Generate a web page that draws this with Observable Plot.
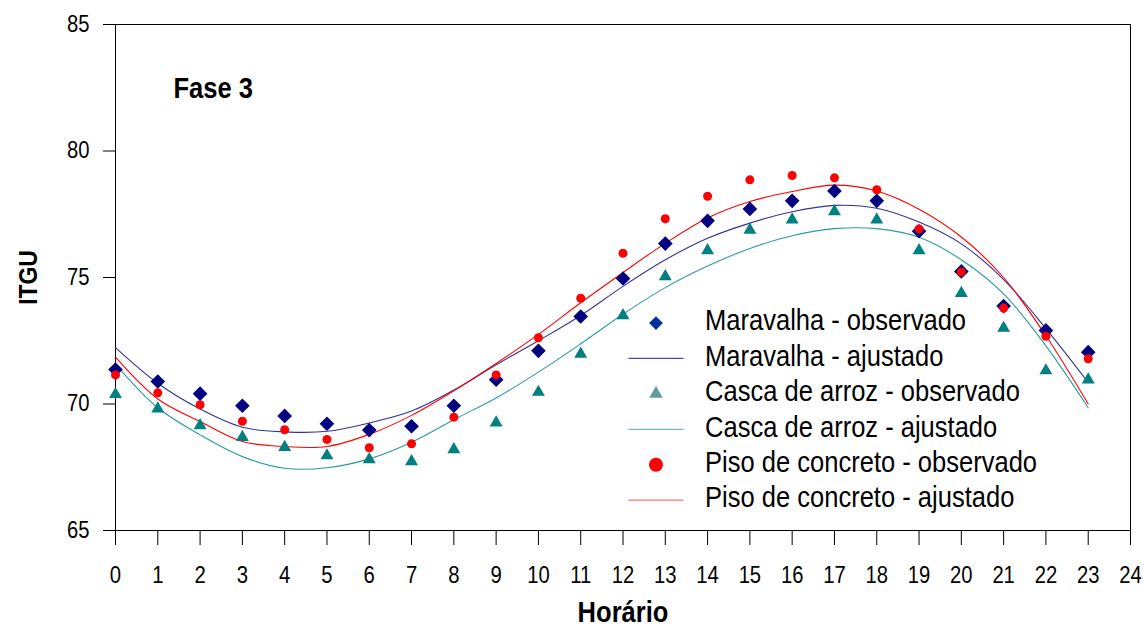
<!DOCTYPE html>
<html>
<head>
<meta charset="utf-8">
<script src="https://cdn.jsdelivr.net/npm/d3@7"></script>
<script src="https://cdn.jsdelivr.net/npm/@observablehq/plot@0.6"></script>
<style>
  html, body { margin: 0; padding: 0; background: #fff; }
  #chart svg { display: block; }
</style>
</head>
<body>
<div id="chart"></div>
<script>
// ---- data ----
const hours = [0,1,2,3,4,5,6,7,8,9,10,11,12,13,14,15,16,17,18,19,20,21,22,23];

const maravalhaObs = [71.36,70.89,70.41,69.93,69.53,69.22,68.97,69.12,69.93,70.96,72.10,73.46,74.96,76.34,77.24,77.71,78.03,78.42,78.03,76.83,75.24,73.87,72.91,72.05];
const cascaObs     = [70.38,69.81,69.15,68.69,68.29,67.96,67.81,67.73,68.20,69.26,70.47,71.98,73.50,75.04,76.07,76.88,77.28,77.61,77.28,76.07,74.38,73.00,71.32,70.96];
const pisoObs      = [71.15,70.44,69.97,69.32,68.98,68.60,68.27,68.43,69.48,71.15,72.62,74.18,75.96,77.32,78.21,78.86,79.03,78.94,78.47,76.92,75.22,73.79,72.68,71.79];

const maravalhaFit = [72.23,70.82,69.80,69.08,68.90,68.92,69.25,69.72,70.55,71.55,72.50,73.50,74.65,75.70,76.55,77.15,77.60,77.85,77.74,77.19,76.33,74.92,72.98,70.85];
const cascaFit     = [71.58,69.85,68.78,67.92,67.46,67.48,67.83,68.49,69.38,70.24,71.26,72.38,73.55,74.60,75.45,76.15,76.65,76.93,76.93,76.59,75.70,74.35,72.30,69.85];
const pisoFit      = [71.85,70.20,69.31,68.52,68.32,68.32,68.80,69.55,70.52,71.60,72.75,74.00,75.20,76.35,77.35,78.00,78.40,78.65,78.42,77.70,76.60,75.00,72.70,70.00];

const xTicks = [0,1,2,3,4,5,6,7,8,9,10,11,12,13,14,15,16,17,18,19,20,21,22,23,24];
const yTicks = [65,70,75,80,85];

const legendLabels = [
  "Maravalha - observado",
  "Maravalha - ajustado",
  "Casca de arroz - observado",
  "Casca de arroz - ajustado",
  "Piso de concreto - observado",
  "Piso de concreto - ajustado"
];

// ---- styles ----
const FONT = '"Liberation Sans", Arial, Helvetica, sans-serif';
const CONDENSE = 0.88; // narrow typeface look
const C = {
  marObs: "#000080", casObs: "#008080", pisObs: "#ff0000",
  marFit: "#333399", casFit: "#2a9d9d", pisFit: "#ff0000",
  legMar: "#003399", legCas: "#669999", legPis: "#ff0000",
  legMarL: "#4a4ab0", legCasL: "#70b8b8", legPisL: "#ff7070"
};

const toRows = (vals) => hours.map((h, i) => ({hour: h, value: vals[i]}));

// legend layout (in data units of the chart)
const legendX = {symbol: 12.78, lineStart: 12.14, lineEnd: 13.42, text: 13.94};
const legendTop = 73.2, legendStep = 1.4;
const legendSpec = [
  {type: "dot", symbol: "diamond2", color: C.legMar, r: 6.2},
  {type: "line", color: C.legMarL},
  {type: "dot", symbol: "triangle", color: C.legCas, r: 5.0},
  {type: "line", color: C.legCasL},
  {type: "dot", symbol: "circle", color: C.legPis, r: 7.0},
  {type: "line", color: C.legPisL}
];
const legendRows = legendLabels.map((label, i) => ({label, y: legendTop - i * legendStep, ...legendSpec[i]}));

const legendMarks = legendRows.flatMap(d => {
  const sym = d.type === "dot"
    ? Plot.dot([d], {x: () => legendX.symbol, y: "y", symbol: d.symbol, fill: d.color, r: d.r, stroke: "none"})
    : Plot.line([{x: legendX.lineStart, y: d.y}, {x: legendX.lineEnd, y: d.y}], {x: "x", y: "y", stroke: d.color, strokeWidth: 1.2});
  const txt = Plot.text([d], {x: () => legendX.text, y: "y", text: "label", textAnchor: "start", lineAnchor: "middle", dy: -2, fontSize: 29, fill: "#000"});
  return [sym, txt];
});

const chart = Plot.plot({
  width: 1143,
  height: 627,
  marginLeft: 115,
  marginRight: 13,
  marginTop: 24,
  marginBottom: 97,
  style: {fontFamily: FONT, fontSize: "23px", color: "#000", background: "#fff", overflow: "visible"},
  x: {domain: [0, 24]},
  y: {domain: [65, 85]},
  marks: [
    Plot.frame({stroke: "#000", strokeWidth: 1}),
    Plot.axisX({ticks: xTicks, tickSize: 15, tickPadding: 21, tickFormat: d => String(d), label: null, fontSize: 23}),
    Plot.axisY({ticks: yTicks, tickSize: 12, tickPadding: 14, tickFormat: d => String(d), label: null, fontSize: 23}),

    Plot.line(toRows(maravalhaFit), {x: "hour", y: "value", stroke: C.marFit, strokeWidth: 1.1, curve: "catmull-rom"}),
    Plot.line(toRows(cascaFit), {x: "hour", y: "value", stroke: C.casFit, strokeWidth: 1.1, curve: "catmull-rom"}),
    Plot.line(toRows(pisoFit), {x: "hour", y: "value", stroke: C.pisFit, strokeWidth: 1.1, curve: "catmull-rom"}),

    Plot.dot(toRows(maravalhaObs), {x: "hour", y: "value", symbol: "diamond2", fill: C.marObs, r: 6.6, stroke: "none"}),
    Plot.dot(toRows(cascaObs), {x: "hour", y: "value", symbol: "triangle", fill: C.casObs, r: 4.8, stroke: "none"}),
    Plot.dot(toRows(pisoObs), {x: "hour", y: "value", symbol: "circle", fill: C.pisObs, r: 4.5, stroke: "none"}),

    ...legendMarks,

    Plot.text(["Fase 3"], {x: () => 1.37, y: () => 82.45, text: d => d, textAnchor: "start", lineAnchor: "middle", fontSize: 29, fontWeight: "bold", fill: "#000"}),
    Plot.text(["ITGU"], {frameAnchor: "left", dx: -87, rotate: -90, text: d => d, textAnchor: "middle", lineAnchor: "middle", fontSize: 26, fontWeight: "bold", fill: "#000"}),
    Plot.text(["Horário"], {frameAnchor: "bottom", dy: 82, text: d => d, textAnchor: "middle", lineAnchor: "middle", fontSize: 29, fontWeight: "bold", fill: "#000"})
  ]
});

document.getElementById("chart").appendChild(chart);

// give every text a narrow (condensed) look, like the reference typeface
d3.select(chart).selectAll("text").each(function () {
  const len = this.getComputedTextLength();
  if (len > 0) {
    this.setAttribute("textLength", (len * CONDENSE).toFixed(1));
    this.setAttribute("lengthAdjust", "spacingAndGlyphs");
  }
});
</script>
</body>
</html>
